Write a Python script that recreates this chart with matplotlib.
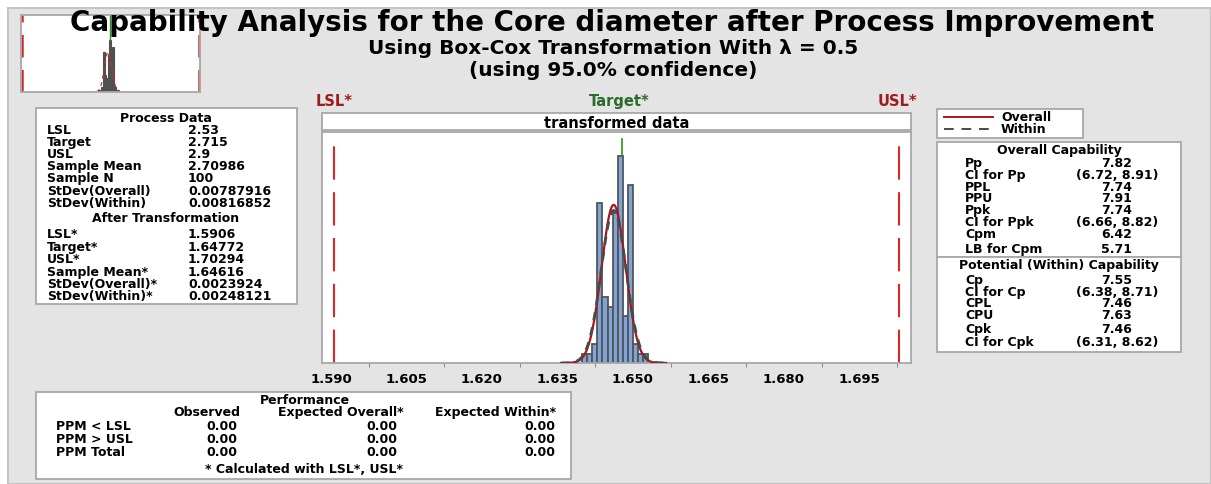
import numpy as np
import matplotlib
matplotlib.use("Agg")
import matplotlib.pyplot as plt
from matplotlib.patches import Rectangle
from matplotlib.lines import Line2D

W, H = 1211, 484

# ---------------- data ----------------
lsl_t, target_t, usl_t = 1.5906, 1.64772, 1.70294
mean_t, sd_overall_t, sd_within_t = 1.64616, 0.0023924, 0.00248121
n_samples = 100
bin_start = 1.6399
bin_width = 0.00101
bin_counts = [1, 1, 2, 17, 7, 6, 16, 22, 5, 19, 2, 1, 1]
x_ticks = [1.590, 1.605, 1.620, 1.635, 1.650, 1.665, 1.680, 1.695]
x_tick_labels = ["1.590", "1.605", "1.620", "1.635", "1.650", "1.665", "1.680", "1.695"]
lsl_o, target_o, usl_o = 2.53, 2.715, 2.9

process_labels = ["LSL", "Target", "USL", "Sample Mean", "Sample N",
                  "StDev(Overall)", "StDev(Within)"]
process_values = ["2.53", "2.715", "2.9", "2.70986", "100", "0.00787916", "0.00816852"]
trans_labels = ["LSL*", "Target*", "USL*", "Sample Mean*", "StDev(Overall)*", "StDev(Within)*"]
trans_values = ["1.5906", "1.64772", "1.70294", "1.64616", "0.0023924", "0.00248121"]

overall_labels = ["Pp", "CI for Pp", "PPL", "PPU", "Ppk", "CI for Ppk", "Cpm", "LB for Cpm"]
overall_values = ["7.82", "(6.72, 8.91)", "7.74", "7.91", "7.74", "(6.66, 8.82)", "6.42", "5.71"]
within_labels = ["Cp", "CI for Cp", "CPL", "CPU", "Cpk", "CI for Cpk"]
within_values = ["7.55", "(6.38, 8.71)", "7.46", "7.63", "7.46", "(6.31, 8.62)"]

perf_rows = ["PPM < LSL", "PPM > USL", "PPM Total"]
perf_cols = ["Observed", "Expected Overall*", "Expected Within*"]
perf_observed = ["0.00", "0.00", "0.00"]
perf_exp_overall = ["0.00", "0.00", "0.00"]
perf_exp_within = ["0.00", "0.00", "0.00"]

# ---------------- helpers ----------------
def fx(px):
    return px / W

def fy(py):
    return 1 - py / H

fig = plt.figure(figsize=(W / 100, H / 100), dpi=100)
fig.patch.set_facecolor("white")

BORDER = "#a8a8a8"
DARKRED = "#9e1c1c"
RED = "#d8282a"
GREEN = "#1e9a1e"
DKGREEN = "#2a6a2a"
FS = 9

def box(x0, y0, x1, y1, fc="white", ec=BORDER, lw=1.3, z=1):
    fig.add_artist(Rectangle((fx(x0), fy(y1)), (x1 - x0) / W, (y1 - y0) / H,
                             transform=fig.transFigure, facecolor=fc,
                             edgecolor=ec, lw=lw, zorder=z))

def txt(x, y, s, ha="left", size=FS, color="black", weight="bold", z=5):
    fig.text(fx(x), fy(y), s, ha=ha, va="center_baseline", fontsize=size,
             color=color, weight=weight, zorder=z)

# background panel
box(8, 8, 1211, 484, fc="#e4e4e4", ec="#c4c4c4", lw=1.5, z=0)

# ---------------- thumbnail ----------------
axt = fig.add_axes([fx(21), fy(92), (200 - 21) / W, (92 - 15) / H])
axt.set_facecolor("white")
edges_t = bin_start + bin_width * np.arange(len(bin_counts) + 1)
edges_o = edges_t ** 2
axt.bar(edges_o[:-1], bin_counts, width=np.diff(edges_o), align="edge",
        color="#505050", edgecolor="#505050", lw=0.8)
xo = np.linspace(mean_t ** 2 - 0.04, mean_t ** 2 + 0.04, 200)
sd_o = 2 * mean_t * sd_overall_t
pdf_o = n_samples * np.mean(np.diff(edges_o)) * np.exp(-0.5 * ((xo - mean_t ** 2) / sd_o) ** 2) / (sd_o * np.sqrt(2 * np.pi))
axt.plot(xo, pdf_o, color=RED, lw=0.9, ls=(0, (3, 3)))
axt.axvline(lsl_o, color=RED, lw=1.8, ls=(0, (9, 5)))
axt.axvline(usl_o, color=RED, lw=1.8, ls=(0, (9, 5)))
axt.plot([target_o, target_o], [22, 32.6], color=GREEN, lw=1)
axt.set_xlim(2.527, 2.903)
axt.set_ylim(0, 32.6)
axt.set_xticks([]); axt.set_yticks([])
for s in axt.spines.values():
    s.set_color(BORDER); s.set_linewidth(1.3)

# ---------------- titles ----------------
fig.text(0.5055, fy(23), "Capability Analysis for the Core diameter after Process Improvement",
         ha="center", va="center", fontsize=20, weight="bold", color="black", zorder=10)
fig.text(0.506, fy(49), "Using Box-Cox Transformation With λ = 0.5",
         ha="center", va="center", fontsize=14.5, weight="bold", color="black", zorder=10)
fig.text(0.506, fy(71), "(using 95.0% confidence)",
         ha="center", va="center", fontsize=14.5, weight="bold", color="black", zorder=10)

# ---------------- main histogram ----------------
x0p, x1p, y0p, y1p = 322, 911, 132, 363
box(322, 113, 911, 130)
txt((x0p + x1p) / 2, 121.5, "transformed data", ha="center", size=10.5)
txt(334, 100, "LSL*", ha="center", color=DARKRED, size=10.5)
txt(619, 100, "Target*", ha="center", color=DKGREEN, size=10.5)
txt(897, 100, "USL*", ha="center", color=DARKRED, size=10.5)

ax = fig.add_axes([fx(x0p), fy(y1p), (x1p - x0p) / W, (y1p - y0p) / H])
ax.set_facecolor("white")
ymax = 24.6
ax.plot([target_t, target_t], [0, ymax * 0.97], color=GREEN, lw=1.2, zorder=1)
ax.plot([lsl_t, lsl_t], [0, ymax * 0.97], color=RED, lw=1.5, ls=(0, (16, 6)), zorder=1)
ax.plot([usl_t, usl_t], [0, ymax * 0.97], color=RED, lw=1.5, ls=(0, (16, 6)), zorder=1)
ax.bar(edges_t[:-1], bin_counts, width=bin_width, align="edge",
       color="#7ea4d8", edgecolor="#555555", lw=1.3, zorder=2)
xs = np.linspace(mean_t - 4.2 * sd_within_t, mean_t + 4.2 * sd_within_t, 300)
def npdf(x, m, s):
    return n_samples * bin_width * np.exp(-0.5 * ((x - m) / s) ** 2) / (s * np.sqrt(2 * np.pi))
ax.plot(xs, npdf(xs, mean_t, sd_overall_t), color="#a8161a", lw=1.6, zorder=3)
ax.plot(xs, npdf(xs, mean_t, sd_within_t), color="#4a4a4a", lw=2.0, ls=(0, (3, 2.5)), zorder=4)
ax.set_xlim(1.58821, 1.70524)
ax.set_ylim(0, ymax)
ax.set_yticks([])
ax.set_xticks(x_ticks)
ax.set_xticklabels(x_tick_labels, fontsize=9.5, weight="bold")
ax.set_xticks([t + 0.0075 for t in x_ticks], minor=True)
ax.tick_params(axis="x", which="major", length=0, pad=7)
ax.tick_params(axis="x", which="minor", length=3, color="#777777")
for s in ax.spines.values():
    s.set_color(BORDER); s.set_linewidth(1.3)

# ---------------- process data box ----------------
box(36, 108, 297, 304)
txt(166, 117, "Process Data", ha="center")
pd_y = [129, 141, 153, 165, 177, 190, 202]
for yy, l, v in zip(pd_y, process_labels, process_values):
    txt(47, yy, l); txt(188, yy, v)
txt(166, 217, "After Transformation", ha="center")
tr_y = [233, 246, 258, 271, 283, 295]
for yy, l, v in zip(tr_y, trans_labels, trans_values):
    txt(47, yy, l); txt(188, yy, v)

# ---------------- legend box ----------------
box(937, 109, 1083, 138)
fig.add_artist(Line2D([fx(944), fx(993)], [fy(117), fy(117)], color="#a8161a", lw=1.4,
                      transform=fig.transFigure, zorder=5))
fig.add_artist(Line2D([fx(944), fx(993)], [fy(129), fy(129)], color="#4a4a4a", lw=1.4,
                      ls=(0, (5, 4)), transform=fig.transFigure, zorder=5))
txt(1001, 116, "Overall"); txt(1001, 128, "Within")

# ---------------- capability boxes ----------------
box(937, 142, 1181, 257)
txt(1059, 149, "Overall Capability", ha="center")
ov_y = [162, 174, 186, 197, 209, 221, 233, 248]
for yy, l, v in zip(ov_y, overall_labels, overall_values):
    txt(965, yy, l); txt(1117, yy, v, ha="center")
box(937, 257, 1181, 352)
txt(1059, 264, "Potential (Within) Capability", ha="center")
wi_y = [279, 291, 302, 314, 328, 341]
for yy, l, v in zip(wi_y, within_labels, within_values):
    txt(965, yy, l); txt(1117, yy, v, ha="center")

# ---------------- performance box ----------------
box(36, 392, 571, 479)
txt(305, 399, "Performance", ha="center")
txt(240, 411, perf_cols[0], ha="right")
txt(404, 411, perf_cols[1], ha="right")
txt(556, 411, perf_cols[2], ha="right")
pf_y = [425, 438, 451]
for yy, r, a, b, c in zip(pf_y, perf_rows, perf_observed, perf_exp_overall, perf_exp_within):
    txt(56, yy, r)
    txt(237, yy, a, ha="right")
    txt(397, yy, b, ha="right")
    txt(555, yy, c, ha="right")
txt(304, 468, "* Calculated with LSL*, USL*", ha="center")

fig.savefig("out.png", dpi=100, facecolor=fig.get_facecolor())
